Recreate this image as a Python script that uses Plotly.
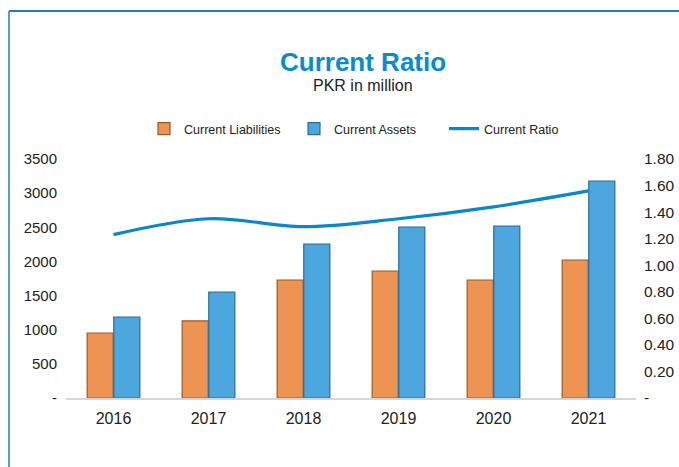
import plotly.graph_objects as go

years = ["2016", "2017", "2018", "2019", "2020", "2021"]
liabilities = [952, 1128, 1728, 1860, 1728, 2021]
assets = [1186, 1552, 2255, 2504, 2519, 3178]
ratio = [1.23, 1.35, 1.29, 1.35, 1.44, 1.56]

left_ticks = [0, 500, 1000, 1500, 2000, 2500, 3000, 3500]
left_text = ["-", "500", "1000", "1500", "2000", "2500", "3000", "3500"]
right_ticks = [0, 0.2, 0.4, 0.6, 0.8, 1.0, 1.2, 1.4, 1.6, 1.8]
right_text = ["-", "0.20", "0.40", "0.60", "0.80", "1.00", "1.20", "1.40", "1.60", "1.80"]

FONT = "Liberation Sans, Arial, sans-serif"

fig = go.Figure()
fig.add_trace(go.Bar(
    x=years, y=liabilities, name="Current Liabilities",
    marker=dict(color="#ee9452", line=dict(color="#9a5a28", width=1.2)),
))
fig.add_trace(go.Bar(
    x=years, y=assets, name="Current Assets",
    marker=dict(color="#4ba7dd", line=dict(color="#2a6d96", width=1.2)),
))
fig.add_trace(go.Scatter(
    x=years, y=ratio, name="Current Ratio", yaxis="y2", mode="lines",
    line=dict(color="#0a87c9", width=3.2, shape="spline", smoothing=1.0),
))

W, H = 679, 467
L, R, T, B = 66, 43, 159, 69
pw = W - L - R
ph = H - T - B

def px_x(p):
    return (p - L) / pw

def px_y(p):
    return (H - B - p) / ph

fig.update_layout(
    width=W, height=H,
    margin=dict(l=L, r=R, t=T, b=B, autoexpand=False),
    paper_bgcolor="white", plot_bgcolor="white",
    font=dict(family=FONT, color="#222222", size=14),
    barmode="group", bargap=0.44, bargroupgap=0.02,
    showlegend=True,
    legend=dict(
        orientation="h", x=px_x(369), xanchor="center",
        y=px_y(129), yanchor="middle",
        font=dict(size=12.5, color="#222222"),
        traceorder="normal", entrywidth=105, itemwidth=30,
    ),
    xaxis=dict(
        showgrid=False, showline=True, linecolor="#d3d6da", linewidth=2,
        ticks="", tickfont=dict(size=16), zeroline=False,
        ticklabelstandoff=5,
    ),
    yaxis=dict(
        range=[0, 3500], tickvals=left_ticks, ticktext=left_text,
        showgrid=False, zeroline=False, showline=False, ticks="",
        tickfont=dict(size=15), ticklabelstandoff=8,
    ),
    yaxis2=dict(
        range=[0, 1.8], tickvals=right_ticks, ticktext=right_text,
        overlaying="y", side="right", showgrid=False, zeroline=False,
        showline=False, ticks="", tickfont=dict(size=15.5),
        ticklabelstandoff=7,
    ),
    annotations=[
        dict(text="<b>Current Ratio</b>", x=px_x(363), y=px_y(62),
             xref="paper", yref="paper", showarrow=False,
             font=dict(size=26, color="#0a8bd1", family=FONT),
             xanchor="center", yanchor="middle"),
        dict(text="PKR in million", x=px_x(363), y=px_y(86),
             xref="paper", yref="paper", showarrow=False,
             font=dict(size=16, color="#222222", family=FONT),
             xanchor="center", yanchor="middle"),
    ],
    shapes=[
        dict(type="line", xref="paper", yref="paper",
             x0=px_x(9), x1=px_x(690), y0=px_y(11), y1=px_y(11),
             line=dict(color="#2f78b0", width=2)),
        dict(type="line", xref="paper", yref="paper",
             x0=px_x(9), x1=px_x(9), y0=px_y(11), y1=px_y(480),
             line=dict(color="#5b9ec6", width=2)),
    ],
)

fig.write_html(
    "out.html",
    config={"displayModeBar": False},
    post_script="document.body.style.margin='0';document.body.style.overflow='hidden';",
)
